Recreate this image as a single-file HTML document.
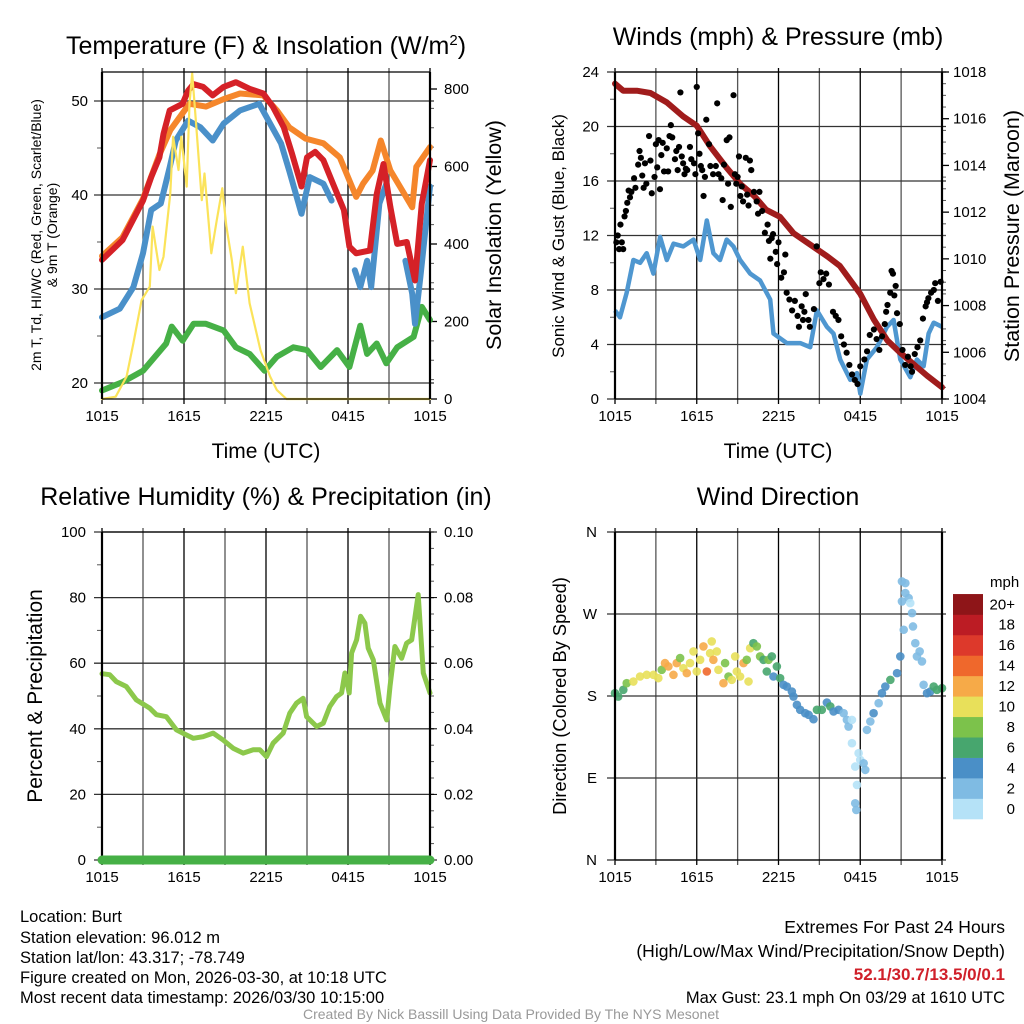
<!DOCTYPE html>
<html><head><meta charset="utf-8"><style>
body{margin:0;background:#fff;}
svg{display:block;font-family:"Liberation Sans",sans-serif;}
</style></head><body>
<svg id="chart" width="1024" height="1024" viewBox="0 0 1024 1024">
<rect width="1024" height="1024" fill="#fff"/>
<g id="g"></g>
<text x="20" y="922" font-size="16.5">Location: Burt</text>
<text x="20" y="943" font-size="16.5">Station elevation: 96.012 m</text>
<text x="20" y="963" font-size="16.5">Station lat/lon: 43.317; -78.749</text>
<text x="20" y="983" font-size="16.5">Figure created on Mon, 2026-03-30, at 10:18 UTC</text>
<text x="20" y="1003" font-size="16.5">Most recent data timestamp: 2026/03/30 10:15:00</text>
<text x="1005" y="933" font-size="17.5" text-anchor="end">Extremes For Past 24 Hours</text>
<text x="1005" y="957" font-size="17.5" text-anchor="end">(High/Low/Max Wind/Precipitation/Snow Depth)</text>
<text x="1005" y="980" font-size="17" font-weight="bold" fill="#d0202a" text-anchor="end">52.1/30.7/13.5/0/0.1</text>
<text x="1005" y="1003" font-size="16.5" text-anchor="end">Max Gust: 23.1 mph On 03/29 at 1610 UTC</text>
<text x="511" y="1019" font-size="14" fill="#999" text-anchor="middle">Created By Nick Bassill Using Data Provided By The NYS Mesonet</text>
</svg>
<script>
const xTicks=['1015','1615','2215','0415','1015'];
// Temperature panel
const redT_h=[0,1.5,3,3.6,4.2,4.5,4.95,5.9,6.3,6.7,7.4,8.1,8.9,9.8,10.8,11.8,12.5,13.3,13.9,14.4,14.6,15,15.6,16.2,16.9,17.7,18.1,18.6,19.6,20.1,20.6,21.1,21.6,22.3,22.9,23.4,24];
const redT=[33.1,35.2,39.4,41.9,44,46.5,49,49.7,51.1,51.8,51.5,50.6,51.5,52,51.3,50.8,49.4,47.2,44.4,41.9,40.9,44,44.6,43.7,41.2,38.4,34.5,33.8,34.1,40.1,43.3,38.7,34.8,35,30.9,39.1,43.7];
const orgT_h=[0,1.5,3,4.2,5,5.9,6.4,7.6,8.9,10.1,11.8,12.8,13.7,14.9,16.2,17.4,18.6,19.1,19.8,20.4,21.1,21.8,22.7,23,24];
const orgT=[33.5,35.5,39.6,44.3,46.9,48.7,49.7,49.4,50.2,50.8,50.6,49,47.2,46,45.5,44,39.8,41.2,42.6,45.8,42.6,40.9,38.7,43,45.1];
const bluT_h=[0,1.3,2.3,3,3.6,4.3,4.96,5.4,6.3,7.2,8.1,8.9,10.1,11.5,12.3,13.1,13.7,14.6,15.2,16.2,16.8,null,18.5,18.9,19.4,19.7,20.3,20.8,null,22.2,22.7,22.9,23.3,24];
const bluT=[27,27.9,30.2,33.8,38.4,39.1,43,45.8,47.9,47.2,45.8,47.6,49,49.7,47.6,45.5,42.6,38,41.9,41.2,39.4,null,32,30.2,33,30.2,39.1,41.2,null,33,29.5,26.3,31.3,40.9];
const grnT_h=[0,1.5,3,4.7,5.1,5.9,6.7,7.6,8.9,9.8,10.8,11.9,12.8,14,15,16,17.2,18.1,18.9,19.4,20.1,20.8,21.6,22.8,23.4,24];
const grnT=[19.2,20.1,21.3,24.2,26,24.5,26.3,26.3,25.6,23.8,23.1,21.3,22.8,23.8,23.5,21.7,23.5,21.7,26.1,23.1,24.2,22.1,23.8,24.9,28.1,26.7];
const sol_h=[0,1,1.8,2.3,2.9,3.5,3.7,4.2,4.5,5,5.2,5.6,5.8,6.2,6.4,6.6,6.9,7.3,7.5,8,8.4,8.8,9.1,9.5,9.8,10.3,10.8,11.6,12.3,12.8,13.5,24];
const sol=[0,6,58,144,255,290,445,333,367,531,677,591,677,548,763,840,703,513,582,376,462,544,445,359,273,393,247,126,58,23,0,0];
const tempTicks=[20,30,40,50];
const solTicks=[0,200,400,600,800];
// Wind panel
const wind_h=[0,0.37,0.86,1.35,1.84,2.33,2.82,3.31,3.8,4.29,5.02,5.76,6.25,6.74,7.22,7.71,8.2,8.69,9.18,9.92,10.65,11.39,11.63,12.61,13.59,14.33,14.82,15.55,16.04,16.53,17.27,17.76,18.0,18.49,19.22,19.96,20.45,20.94,21.67,22.16,22.65,23.02,23.39,24];
const wind=[6.5,6,7.8,10.2,10,10.7,9.2,11.9,10.2,11.4,11.2,11.7,10.2,13.1,10.7,10.2,11.7,11.2,10.2,9.2,8.7,7.3,4.8,4.1,4.1,3.8,6.5,5.3,4.8,2.9,1.4,1.9,0.4,2.9,3.8,5.3,5.8,2.9,1.6,2.9,2.4,4.8,5.6,5.3];
const gust_h=[0.1,0.2,0.3,0.4,0.5,0.6,0.7,0.8,0.9,1,1.1,1.2,1.4,1.5,1.7,1.8,1.9,2,2.1,2.2,2.3,2.5,2.6,2.7,2.9,3,3.1,3.2,3.3,3.4,3.5,3.6,3.8,3.9,4,4.1,4.2,4.4,4.5,4.6,4.7,4.8,4.9,5,5.1,5.2,5.3,5.5,5.6,5.8,5.9,6,6.1,6.2,6.3,6.4,6.5,6.6,6.7,6.9,7,7.2,7.4,7.5,7.6,7.8,7.9,8,8.2,8.3,8.4,8.5,8.7,8.8,8.9,9,9.1,9.2,9.3,9.4,9.6,9.7,9.8,9.9,10,10.2,10.4,10.5,10.6,10.8,11,11.2,11.3,11.4,11.5,11.6,11.8,11.9,12,12.2,12.4,12.5,12.6,12.8,13,13.2,13.4,13.5,13.7,13.8,13.9,14,14.2,14.3,14.6,14.8,15,15.1,15.3,15.5,15.7,16,16.2,16.4,16.6,16.8,17,17.2,17.4,17.6,17.8,18,18.3,18.5,18.7,19,19.2,19.4,19.6,19.8,19.9,20,20.2,20.3,20.4,20.5,20.6,20.7,20.9,21.1,21.3,21.5,21.7,21.8,22,22.2,22.4,22.6,22.8,22.9,23,23.2,23.4,23.5,23.7,23.9];
const gust=[11.5,12,11,12.8,11.5,11,13.4,13.8,14.4,15.3,14.8,15.2,16.2,15.5,17.2,18.2,17.7,16.4,15.5,17.3,15.8,19.3,17.5,15.1,16.3,18.7,17,19,15.4,17.9,18.8,16.7,18.4,16.7,19.3,20.1,19.2,17.6,18.2,16.8,18.5,22.5,17.8,17.3,16.5,16.9,16.8,18.5,17.6,17.3,16.5,22.9,19.5,18,17.1,16.8,14.9,16.3,20.5,18.7,17.1,16.5,17.1,21.7,16.5,16.2,14.6,17.2,19,15.8,19.2,14.1,22.3,16.5,15.8,16.3,17.8,14.9,15.6,14.5,17.7,15,14.2,17.5,16.8,15.2,14.5,13.6,15.2,13.8,12.2,12.8,11.6,10.3,11.8,12.1,10.8,9.9,11.5,8.9,9.3,10.6,7.8,7.3,6.5,7.2,6.1,5.3,6.8,5.8,6.4,7.7,5.8,5.3,6.6,11.2,8.5,9.3,8.8,9.2,8.4,6.4,6.1,5.8,4.6,4,3.4,2.5,1.8,1.4,1.1,2.4,2.9,3.5,4.7,5.1,4.4,3.6,4.6,5.5,6.4,6.9,7.8,9.4,9.2,7.6,8.3,6.3,5.5,3.6,2.5,3.1,2.4,2,3.3,3.8,4.3,5.9,6.8,7.1,7.4,7.8,8,8.5,7.2,8.6];
const pres_h=[0,0.6,1.6,2.6,3.8,5,6,7,8.2,9.2,10.2,11.1,12.1,13.1,14.1,15.6,16.5,18,19,20,20.9,21.9,22.9,24];
const pres=[1017.5,1017.2,1017.2,1017.1,1016.7,1016.1,1015.7,1014.8,1013.9,1013.2,1012.7,1012.1,1011.8,1011.1,1010.7,1010.1,1009.7,1008.5,1007.4,1006.5,1006,1005.5,1005,1004.5];
const windTicks=[0,4,8,12,16,20,24];
const presTicks=[1004,1006,1008,1010,1012,1014,1016,1018];
// RH panel
const rh_h=[0,0.56,1.05,1.78,2.51,3.49,3.98,4.71,5.44,6.18,6.67,7.4,8.13,8.86,9.59,10.33,11.06,11.55,12.04,12.52,13.26,13.74,14.23,14.72,14.97,15.7,16.19,16.67,17.16,17.53,17.77,18.09,18.26,18.63,18.92,19.24,19.48,19.85,20.34,20.83,21.07,21.43,21.92,22.29,22.66,23.14,23.51,24];
const rh=[56.8,56.5,54.4,52.9,48.8,46.3,44.3,43.7,39.7,38.1,37.1,37.6,38.7,36.6,34.1,32.6,33.6,33.6,31.5,35.6,38.7,44.8,47.8,49.3,43.7,40.7,41.7,46.8,49.8,50.9,57,50.9,63.1,67.1,74.3,72.2,64.6,61,47.8,42.7,52.9,65.1,61.5,66.1,67.1,80.9,57,50.9];
const precip_h=[0,24];
const precip=[0,0];
const rhTicks=[0,20,40,60,80,100];
const pTicks=['0.00','0.02','0.04','0.06','0.08','0.10'];
// Wind direction panel
const dir_h=[0,0.24,0.61,0.86,1.35,1.84,2.33,2.82,3.18,3.43,3.67,3.92,4.29,4.53,4.78,5.02,5.27,5.51,5.76,6.0,6.25,6.49,6.74,6.98,7.1,7.22,7.47,7.59,7.96,8.08,8.33,8.57,8.82,8.94,9.18,9.43,9.67,9.8,9.92,10.16,10.41,10.65,10.9,11.14,11.27,11.51,11.63,11.88,12.12,12.37,12.61,12.98,13.1,13.35,13.59,13.96,14.21,14.57,14.82,15.18,15.55,15.8,16.04,16.41,16.78,17.02,17.14,17.39,17.39,17.63,17.88,18.0,17.76,17.63,17.71,18.25,18.37,18.49,18.74,18.98,19.35,19.59,19.84,20.21,20.7,20.94,21.19,21.06,21.06,21.31,21.31,21.55,21.67,21.8,21.87,22.04,22.16,22.36,22.53,22.65,22.9,23.14,23.39,23.63,24];
const dir=[183.1,179.4,186.8,194.1,195.9,201.4,203.2,203.2,199.6,208.7,216.1,212.4,203.2,216.1,221.6,210.6,205.1,216.1,228.9,206.9,219.7,234.4,206.9,227,239.9,219.7,228.9,208.7,194.1,216.1,201.4,197.7,223.4,206.9,201.4,216.1,219.7,195.9,232.5,238,234.4,223.4,219.7,206.9,219.7,223.4,201.4,212.4,199.6,192.3,190.4,184.9,179.4,170.3,164.8,161.1,159.3,154.5,164.8,164.8,172.8,168.5,163,164.8,161.1,153.8,146.5,153.8,128.2,102.5,117.2,109.9,82.4,62.3,54.9,106.2,98.9,142.8,152,161.1,172.1,183.1,190.4,197.7,205.1,223.4,252.7,283.8,305.8,303.9,293,287.5,282,271,256.3,238,223.4,228.9,217.9,192.3,183.1,184.9,190.4,186.8,188.6];
const dirSpd=[6,6,7,8,10,10,10,10,11,8,12,12,12,12,8,10,12,10,10,10,11,13,15,10,10,12,10,10,12,8,8,10,11,10,10,12,8,10,10,7,8,8,6,6,8,6,5,6,6,5,5,5,4,4,4,4,4,4,6,6,4,6,4,4,3,2,2,1,1,0,1,1,1,2,2,2,2,3,3,4,3,4,4,6,4,4,2,2,2,2,2,2,1,2,2,2,2,2,2,2,4,4,6,6,6];
const dirTicks=['N','E','S','W','N'];
const cbLabels=['0','2','4','6','8','10','12','14','16','18','20+'];
const cbColors=['#b5e2f7','#7fbbe3','#4a8fc7','#47a66e','#7cc24b','#e8e05a','#f6aa48','#ef682c','#dd392b','#bc1c24','#8e1518'];

const NS='http://www.w3.org/2000/svg';
const G=document.getElementById('g');
function el(tag,attrs,parent,text){const e=document.createElementNS(NS,tag);for(const k in attrs)e.setAttribute(k,attrs[k]);if(text!==undefined)e.textContent=text;(parent||G).appendChild(e);return e;}
function lin(d0,d1,r0,r1){return v=>r0+(v-d0)/(d1-d0)*(r1-r0);}
function pathD(hs,vs,X,Y){let d='',pen=false;for(let i=0;i<hs.length;i++){if(hs[i]===null||vs[i]===null){pen=false;continue;}d+=(pen?'L':'M')+X(hs[i]).toFixed(1)+' '+Y(vs[i]).toFixed(1);pen=true;}return d;}

function frame(L,T,R,B,name){
  const g=el('g',{});
  
  
  const X=lin(0,24,L,R);
  for(let h=0;h<=24;h+=3){el('line',{x1:X(h),x2:X(h),y1:T-4,y2:B+5,stroke:(h%6==0)?'#000':'#555','stroke-width':1.3},g);}
  xTicks.forEach((t,i)=>{const tx=el('text',{x:X(i*6),y:B+22,'font-size':15,'text-anchor':'middle'},g,t);
    
    });
  return {g,X};
}
function hgrid(g,y,L,R){el('line',{x1:L-8,x2:R+4,y1:y,y2:y,stroke:'#333','stroke-width':1.3},g);}
function box(g,L,T,R,B){el('line',{x1:L,x2:L,y1:T,y2:B,stroke:'#000','stroke-width':2.2},g);el('line',{x1:R,x2:R,y1:T,y2:B,stroke:'#000','stroke-width':2.2},g);el('line',{x1:L,x2:R,y1:T,y2:T,stroke:'#000','stroke-width':1.3},g);el('line',{x1:L,x2:R,y1:B,y2:B,stroke:'#000','stroke-width':1.3},g);}
function title(x,y,t,name,fs){const e=el('text',{x,y,'font-size':fs||25,'text-anchor':'middle'},G,t);return e;}
function vlabel(x,y,t,name,fs){const e=el('text',{x,y,'font-size':fs,'text-anchor':'middle',transform:`rotate(-90 ${x} ${y})`},G,t);return e;}

// ---- Panel 1
{const L=102,T=72,R=430,B=399;const f=frame(L,T,R,B,'temperature');const g=f.g,X=f.X;
 const Y=lin(20,30,383,289),Ys=lin(0,800,399,89);
 tempTicks.forEach(v=>{hgrid(g,Y(v),L,R);const t=el('text',{x:L-14,y:Y(v)+5,'font-size':15,'text-anchor':'end'},g,v);});
 [25,35,45].forEach(v=>el('line',{x1:L-5,x2:L,y1:Y(v),y2:Y(v),stroke:'#555'},g));
 solTicks.forEach(v=>{el('line',{x1:R,x2:R+7,y1:Ys(v),y2:Ys(v),stroke:'#000','stroke-width':1.3},g);const t=el('text',{x:R+14,y:Ys(v)+5,'font-size':15},g,v);});
 for(let v=50;v<=800;v+=50){if(v%200)el('line',{x1:R,x2:R+4,y1:Ys(v),y2:Ys(v),stroke:'#555'},g);}
 const s=[[grnT_h,grnT,'#46b046','green-series',Y,6],[bluT_h,bluT,'#4a90c9','blue-series',Y,6],[orgT_h,orgT,'#f5862b','orange-series',Y,6],[redT_h,redT,'#d52127','red-series',Y,6],[sol_h,sol,'#fbe35a','solar-series',Ys,2.2]];
 s.forEach(a=>{const p=el('path',{d:pathD(a[0],a[1],X,a[4]),fill:'none',stroke:a[2],'stroke-width':a[5],'stroke-linejoin':'round','stroke-linecap':'round'},g);
   
   });
 box(g,L,T,R,B);
 const tt=title(266,54,'Temperature (F) & Insolation (W/m','temperature-title');el('tspan',{dy:-9,'font-size':15},tt,'2');el('tspan',{dy:9},tt,')');
 title(266,458,'Time (UTC)','x-axis-title',21);
 vlabel(41,235,'2m T, Td, HI/WC (Red, Green, Scarlet/Blue)','y-axis-title',14);
 vlabel(57,235,'& 9m T (Orange)','y-axis-title-2',14);
 vlabel(501,235,'Solar Insolation (Yellow)','y2-axis-title',21.5);
}
// ---- Panel 2
{const L=615,T=72,R=942,B=399;const f=frame(L,T,R,B,'wind');const g=f.g,X=f.X;
 const Y=lin(0,24,399,72),Yp=lin(1004,1018,399,72);
 windTicks.forEach(v=>{hgrid(g,Y(v),L,R);const t=el('text',{x:L-16,y:Y(v)+5,'font-size':15,'text-anchor':'end'},g,v);});
 [2,6,10,14,18,22].forEach(v=>el('line',{x1:L-5,x2:L,y1:Y(v),y2:Y(v),stroke:'#555'},g));
 presTicks.forEach(v=>{el('line',{x1:R,x2:R+7,y1:Yp(v),y2:Yp(v),stroke:'#000','stroke-width':1.3},g);const t=el('text',{x:R+11,y:Yp(v)+5,'font-size':15},g,v);});
 for(let v=1004.5;v<1018;v+=0.5){if(v%2)el('line',{x1:R,x2:R+4,y1:Yp(v),y2:Yp(v),stroke:'#555'},g);}
 const w=el('path',{d:pathD(wind_h,wind,X,Y),fill:'none',stroke:'#4f97d0','stroke-width':4.5,'stroke-linejoin':'round'},g);
 
 
 const p=el('path',{d:pathD(pres_h,pres,X,Yp),fill:'none',stroke:'#a01c1c','stroke-width':6,'stroke-linecap':'round','stroke-linejoin':'round'},g);
 
 
 gust_h.forEach((h,i)=>{const c=el('circle',{cx:X(h),cy:Y(gust[i]),r:3.1,fill:'#000'},g);
   
   });
 box(g,L,T,R,B);
 title(778,45,'Winds (mph) & Pressure (mb)','wind-title');
 title(778,458,'Time (UTC)','x-axis-title',21);
 vlabel(564,236,'Sonic Wind & Gust (Blue, Black)','y-axis-title',17);
 vlabel(1019,236,'Station Pressure (Maroon)','y2-axis-title',21.5);
}
// ---- Panel 3
{const L=102,T=532,R=430,B=860;const f=frame(L,T,R,B,'humidity');const g=f.g,X=f.X;
 const Y=lin(0,100,860,532);
 rhTicks.forEach((v,i)=>{hgrid(g,Y(v),L,R);const t=el('text',{x:L-16,y:Y(v)+5,'font-size':15,'text-anchor':'end'},g,v);
   el('line',{x1:R,x2:R+7,y1:Y(v),y2:Y(v),stroke:'#000'},g);const t2=el('text',{x:R+14,y:Y(v)+5,'font-size':15},g,pTicks[i]);});
 for(let v=10;v<100;v+=10){if(v%20)el('line',{x1:L-5,x2:L,y1:Y(v),y2:Y(v),stroke:'#555'},g);}
 for(let v=5;v<100;v+=5){if(v%20)el('line',{x1:R,x2:R+4,y1:Y(v),y2:Y(v),stroke:'#555'},g);}
 const r=el('path',{d:pathD(rh_h,rh,X,Y),fill:'none',stroke:'#8cc84b','stroke-width':5,'stroke-linejoin':'round','stroke-linecap':'round'},g);
 
 
 box(g,L,T,R,B);
 const pr=el('path',{d:pathD(precip_h,precip.map(v=>v*1000),X,Y),fill:'none',stroke:'#46b046','stroke-width':9,'stroke-linecap':'round'},g);
 
 
 title(266,505,'Relative Humidity (%) & Precipitation (in)','humidity-title');
 vlabel(42,696,'Percent & Precipitation','y-axis-title',21);
}
// ---- Panel 4
{const L=615,T=532,R=942,B=860;const f=frame(L,T,R,B,'direction');const g=f.g,X=f.X;
 const Y=lin(0,360,860,532);
 dirTicks.forEach((v,i)=>{hgrid(g,Y(i*90),L,R);const t=el('text',{x:L-18,y:Y(i*90)+5,'font-size':15,'text-anchor':'end'},g,v);});
 dir_h.forEach((h,i)=>{const b=Math.min(10,Math.floor(dirSpd[i]/2));const c=el('circle',{cx:X(h),cy:Y(dir[i]),r:4.3,fill:cbColors[b],'fill-opacity':0.9},g);
   
   });
 box(g,L,T,R,B);
 title(778,505,'Wind Direction','direction-title');
 vlabel(566,696,'Direction (Colored By Speed)','y-axis-title',18.3);
 const cb=el('g',{},G);
 
 
 const h=20.45;
 cbColors.forEach((c,i)=>{const y0=819-(i+1)*h;el('rect',{x:953,y:y0,width:30,height:h+0.3,fill:c},cb);
   const t=el('text',{x:1015,y:y0+h/2+5,'font-size':15,'text-anchor':'end'},cb,cbLabels[i]);
   
   });
 const u=el('text',{x:990,y:587,'font-size':15},cb,'mph');
 
 
}
</script>
</body></html>
